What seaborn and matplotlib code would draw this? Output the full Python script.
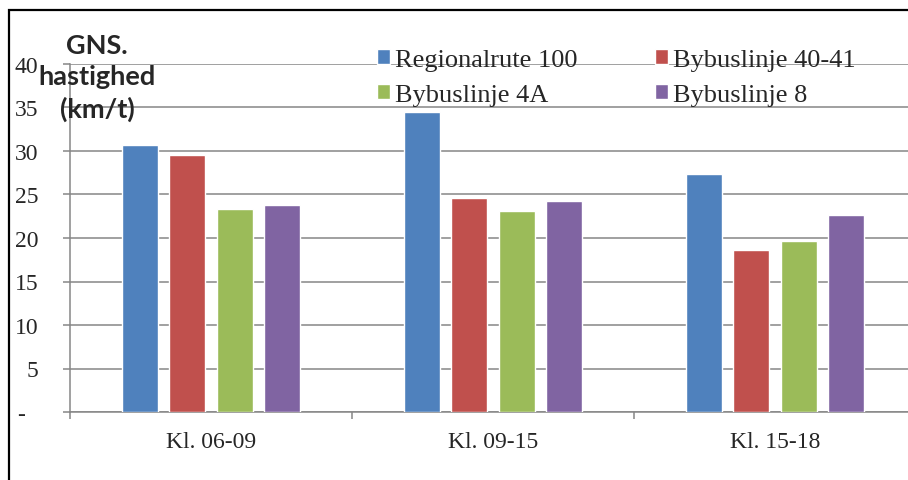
import pandas as pd
import matplotlib.pyplot as plt
import seaborn as sns
from matplotlib.patches import Rectangle

periods = ['Kl. 06-09', 'Kl. 09-15', 'Kl. 15-18']
routes = ['Regionalrute 100', 'Bybuslinje 40-41', 'Bybuslinje 4A', 'Bybuslinje 8']
regional_100 = [30.7, 34.5, 27.4]
bybus_40_41 = [29.5, 24.6, 18.6]
bybus_4a = [23.3, 23.1, 19.7]
bybus_8 = [23.8, 24.3, 22.6]
colors = ['#4F81BD', '#C0504D', '#9BBB59', '#8064A2']
yticks = [0, 5, 10, 15, 20, 25, 30, 35, 40]

df = pd.DataFrame({'period': periods * 4,
                   'route': [r for r in routes for _ in periods],
                   'speed': regional_100 + bybus_40_41 + bybus_4a + bybus_8})

sns.set_style('white')
plt.rcParams['font.family'] = ['Liberation Serif', 'DejaVu Serif']

fig = plt.figure(figsize=(9.08, 4.81), dpi=100)
ax = fig.add_axes([70 / 908, 1 - 413 / 481, 846 / 908, 348 / 481])

sns.barplot(data=df, x='period', y='speed', hue='route', order=periods,
            hue_order=routes, palette=colors, width=0.671, gap=0.24,
            saturation=1, ax=ax, zorder=3)

ax.set_xlim(-0.5, 2.5)
ax.set_ylim(0, 40)
ax.set_xlabel('')
ax.set_ylabel('')

grid_c = '#868686'
ax.set_yticks(yticks)
ax.set_yticklabels(['-  ' if v == 0 else str(v) for v in yticks], fontsize=17)
ax.yaxis.grid(True, color=grid_c, linewidth=1.1, zorder=0)
ax.tick_params(axis='y', length=5, width=1.1, color=grid_c, pad=18, left=True)
ax.set_xticks([-0.5, 0.5, 1.5, 2.5], minor=True)
ax.tick_params(axis='x', which='minor', length=5, width=1.1, color=grid_c, bottom=True)
ax.tick_params(axis='x', which='major', length=0, pad=14, labelsize=17)
for side in ['top', 'right']:
    ax.spines[side].set_visible(False)
for side in ['left', 'bottom']:
    ax.spines[side].set_color(grid_c)
    ax.spines[side].set_linewidth(1.1)

leg = ax.get_legend()
handles = leg.legend_handles
labels = [t.get_text() for t in leg.get_texts()]
leg.remove()
order = [0, 2, 1, 3]
ax.legend([handles[i] for i in order], [labels[i] for i in order], ncol=2,
          loc='upper left', bbox_to_anchor=(377 / 908, 1 - 50 / 481),
          bbox_transform=fig.transFigure, frameon=False, fontsize=19,
          handlelength=0.5, handleheight=0.5, handletextpad=0.2,
          columnspacing=2.9, labelspacing=0.5, borderpad=0, borderaxespad=0)

fig.text(97 / 908, 1 - 78 / 481, 'GNS.\nhastighed\n(km/t)', ha='center', va='center',
         fontsize=19.5, fontweight='bold', family=['Lato', 'DejaVu Sans'],
         linespacing=1.36, zorder=5)

fig.patches.append(Rectangle((9 / 908, -0.1), 1.2, 1 - 11 / 481 + 0.1,
                             transform=fig.transFigure, fill=False,
                             edgecolor='black', linewidth=1.6))

fig.savefig('out.png', dpi=100)
